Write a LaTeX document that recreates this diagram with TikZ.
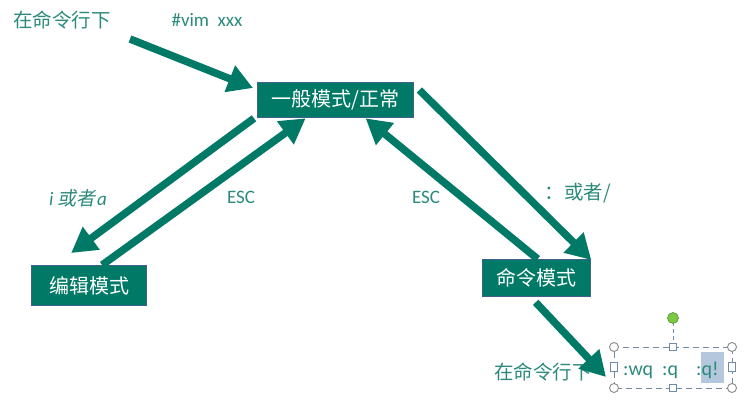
\documentclass[tikz,border=0pt]{standalone}
\usepackage{fontspec}
\setmainfont{Carlito}
\newfontfamily\cjk{Noto Sans CJK SC}
\newfontfamily\cjkit[FakeSlant=0.2]{Noto Sans CJK SC}
\usetikzlibrary{arrows.meta,calc}
\definecolor{teal1}{HTML}{007A66}
\definecolor{boxborder}{HTML}{41618C}
\definecolor{lbl}{HTML}{2B8A7C}
\definecolor{selline}{HTML}{6E8BAA}
\definecolor{handle}{HTML}{8A8A8A}
\definecolor{hilite}{HTML}{B4C7DC}
\definecolor{rotgreen}{HTML}{7AC943}
\tikzset{
  modebox/.style={draw=boxborder, line width=1.3pt, fill=teal1, text=white,
    inner sep=0pt, anchor=north west},
  boxtext/.style={text=white, font=\cjk\fontsize{20}{22}\selectfont, inner sep=0pt},
  lbltext/.style={text=lbl, font=\fontsize{19}{22}\selectfont, inner sep=0pt},
  cjklbl/.style={text=lbl, font=\cjk\fontsize{19.5}{22}\selectfont, inner sep=0pt},
  bigarrow/.style={draw=teal1, line width=7.5pt, -{Triangle[length=25pt,width=27pt]}},
  selhandlec/.style={circle, draw=handle, fill=white, line width=0.9pt, minimum size=9pt, inner sep=0pt},
  selhandles/.style={rectangle, draw=selline, fill=white, line width=0.9pt, minimum size=7pt, inner sep=0pt},
}
\begin{document}
\begin{tikzpicture}[x=1pt,y=-1pt]
\useasboundingbox (0,0) rectangle (751,401);
% mode boxes
\node[modebox, minimum width=156pt, minimum height=35pt] (gen) at (257,82) {};
\node[boxtext] (gent) at (gen.center) {一般模式/正常};
\node[modebox, minimum width=115pt, minimum height=40pt] (edit) at (31,265) {};
\node[boxtext] (editt) at (edit.center) {编辑模式};
\node[modebox, minimum width=108pt, minimum height=37pt] (cmd) at (482,259) {};
\node[boxtext] (cmdt) at (cmd.center) {命令模式};
% labels
\node[cjklbl] (tl) at (62,20) {在命令行下};
\node[lbltext] (vim) at (207,20) {\#vim\ \ xxx};
\node[lbltext] (ia) at (78,198) {\textit{i}\ {\cjkit 或者}\kern1.5pt\textit{a}};
\node[lbltext] (esc1) at (241,197) {ESC};
\node[lbltext] (esc2) at (426,197) {ESC};
\node[cjklbl] (colon) at (578,193) {：或者/};
\node[cjklbl] (bl) at (543,372) {在命令行下};
% arrows
\coordinate (start) at (130,39);
\draw[bigarrow] (start) -- ([shift={(-4,6)}]gen.north west);
\draw[bigarrow] ([shift={(-3,0)}]gen.south west) -- ([shift={(-18,-12)}]edit.north);
\draw[bigarrow] ([shift={(13,0)}]edit.north) -- ([shift={(-30,0)}]gen.south);
\draw[bigarrow] ([shift={(1,0)}]cmd.north) -- ([shift={(30,0)}]gen.south);
\draw[bigarrow] ([shift={(5,8)}]gen.north east) -- ([shift={(0,1)}]cmd.north east);
% selection box
\coordinate (sw) at (614,388);
\coordinate (ne) at (732,347);
\fill[hilite] (701,352) rectangle (724,383);
\draw[selline, dashed, dash pattern=on 6pt off 4pt, line width=0.9pt] (sw) rectangle (ne);
\draw[selline, dashed, dash pattern=on 4pt off 3pt, line width=0.9pt] (673,347) -- (673,318);
\node[lbltext, anchor=west, font=\fontsize{20}{22}\selectfont] (q) at (623,370) {:wq\ \ :q\ \ \ \ :q!};
\draw[bigarrow] ([shift={(-1,5)}]cmd.south) -- ([shift={(-8,-11)}]sw);
\node[selhandlec] (c1) at (614,347) {};
\node[selhandlec] (c2) at (732,347) {};
\node[selhandlec] (c3) at (614,388) {};
\node[selhandlec] (c4) at (732,388) {};
\node[selhandles] (s1) at (673,347) {};
\node[selhandles] (s2) at (673,388) {};
\node[selhandles, minimum width=7pt, minimum height=9pt] (s3) at (614,367) {};
\node[selhandles, minimum width=7pt, minimum height=9pt] (s4) at (732,367) {};
\node[circle, fill=rotgreen, draw=rotgreen!70!black, line width=0.6pt, minimum size=11pt, inner sep=0pt] (rot) at (673,318) {};
\end{tikzpicture}
\end{document}
